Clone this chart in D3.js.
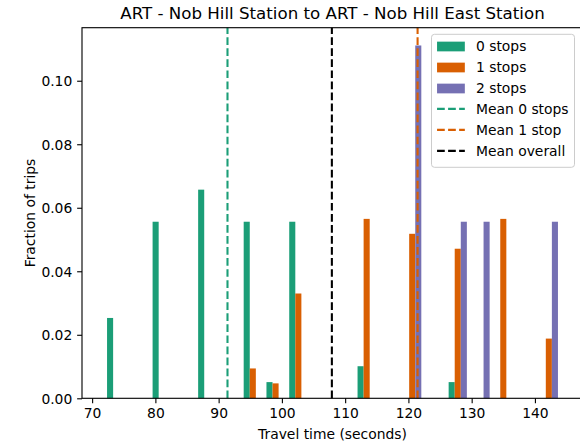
<!DOCTYPE html>
<html><head><meta charset="utf-8">
<script src="https://cdn.jsdelivr.net/npm/d3@7"></script>
<style>
body{margin:0;background:#fff;overflow:hidden}
text{font-family:"DejaVu Sans",sans-serif;fill:#000}
</style>
</head><body>
<svg id="c" width="580" height="443"></svg>
<script>
// ---- data ----
const chartTitle = "ART - Nob Hill Station to ART - Nob Hill East Station";
const xLabel = "Travel time (seconds)";
const yLabel = "Fraction of trips";
const binEdges = [72,75.6,79.2,82.8,86.4,90,93.6,97.2,100.8,104.4,108,111.6,115.2,118.8,122.4,126,129.6,133.2,136.8,140.4,144];
const seriesNames = ["0 stops","1 stops","2 stops"];
const stops0 = [0.0253,0,0.0556,0,0.0657,0,0.0556,0.0051,0.0556,0,0,0.0101,0,0,0,0.0051,0,0,0,0];
const stops1 = [0,0,0,0,0,0,0.0094,0.0047,0.0330,0,0,0.0565,0,0.0518,0,0.0471,0,0.0565,0,0.0188];
const stops2 = [0,0,0,0,0,0,0,0,0,0,0,0,0,0.1111,0,0.0556,0.0556,0,0,0.0556];
const meanNames = ["Mean 0 stops","Mean 1 stop","Mean overall"];
const meanValues = [91.4,121.45,107.9];
const xTicks = [70,80,90,100,110,120,130,140];
const yTicks = [0,0.02,0.04,0.06,0.08,0.10];

const seriesColors = ["#1b9e77","#d95f02","#7570b3"];
const meanColors = ["#1b9e77","#d95f02","#000000"];

// ---- layout ----
const svg = d3.select("#c");
const L = 82, R = 583, T = 27.7, B = 398.3;
const x = d3.scaleLinear().domain([68.4,147.6]).range([L,R]);
const y = d3.scaleLinear().domain([0,0.1167]).range([B,T]);
const PX = 100/72; // points to px

// bars
const allSeries = [stops0, stops1, stops2];
const nx = allSeries.length;
allSeries.forEach((vals, si) => {
  const g = svg.append("g");
  vals.forEach((v, bi) => {
    if (!v) return;
    const lo = binEdges[bi], hi = binEdges[bi+1], w = hi - lo;
    const bw = 0.8 * w / nx;
    const left = lo + 0.1 * w + si * bw;
    g.append("rect")
      .attr("x", x(left)).attr("width", x(left + bw) - x(left))
      .attr("y", y(v)).attr("height", y(0) - y(v))
      .attr("fill", seriesColors[si]);
  });
});

// mean lines
const dash = [3.7*1.5*PX, 1.6*1.5*PX].join(",");
meanValues.forEach((m, i) => {
  svg.append("line")
    .attr("x1", x(m)).attr("x2", x(m))
    .attr("y1", B).attr("y2", T)
    .attr("stroke", meanColors[i]).attr("stroke-width", 1.5*PX)
    .attr("stroke-dasharray", dash);
});

// axes
const tickLen = 3.5*PX, tickPad = 3.5*PX;
const xAxis = svg.append("g").attr("transform", `translate(0,${B})`)
  .call(d3.axisBottom(x).tickValues(xTicks).tickFormat(d3.format("d"))
        .tickSize(tickLen).tickPadding(tickPad).tickSizeOuter(0));
const yAxis = svg.append("g").attr("transform", `translate(${L},0)`)
  .call(d3.axisLeft(y).tickValues(yTicks).tickFormat(d3.format(".2f"))
        .tickSize(tickLen).tickPadding(tickPad).tickSizeOuter(0));
[xAxis, yAxis].forEach(a => {
  a.select(".domain").remove();
  a.selectAll(".tick line").attr("stroke", "#000").attr("stroke-width", 0.8*PX);
  a.selectAll(".tick text").attr("font-family", "DejaVu Sans").attr("font-size", 10*PX).attr("fill", "#000");
});
yAxis.selectAll(".tick text").attr("dy", "0.36em");

// spines
const sw = 0.8*PX;
svg.append("rect").attr("x", L).attr("y", T).attr("width", R - L).attr("height", B - T)
  .attr("fill", "none").attr("stroke", "#000").attr("stroke-width", sw);

// title and labels
svg.append("text").attr("x", (L+R)/2).attr("y", 19.4).attr("text-anchor", "middle")
  .attr("font-size", 12*PX).text(chartTitle);
svg.append("text").attr("x", (L+R)/2).attr("y", 438.5).attr("text-anchor", "middle")
  .attr("font-size", 10*PX).text(xLabel);
svg.append("text").attr("transform", `translate(35,${(T+B)/2}) rotate(-90)`)
  .attr("text-anchor", "middle").attr("font-size", 10*PX).text(yLabel);

// legend
const lg = svg.append("g");
const fs = 10*PX;
const lx = 431.5, ly = 34.3, lw = 143, lh = 133;
lg.append("rect").attr("x", lx).attr("y", ly).attr("width", lw).attr("height", lh)
  .attr("rx", 3).attr("fill", "#fff").attr("fill-opacity", 0.8)
  .attr("stroke", "#cccccc").attr("stroke-width", 1);
const rowY = i => 45.9 + i * 21;
const hx0 = lx + 0.4*fs, hx1 = hx0 + 2*fs, tx = hx1 + 0.8*fs;
seriesNames.forEach((n, i) => {
  lg.append("rect").attr("x", hx0).attr("y", rowY(i) - 0.35*fs + 0.6)
    .attr("width", hx1 - hx0).attr("height", 0.7*fs).attr("fill", seriesColors[i]);
  lg.append("text").attr("x", tx).attr("y", rowY(i)).attr("dy", "0.36em")
    .attr("font-size", fs).text(n);
});
meanNames.forEach((n, j) => {
  const i = j + seriesNames.length;
  lg.append("line").attr("x1", hx0).attr("x2", hx1).attr("y1", rowY(i)).attr("y2", rowY(i))
    .attr("stroke", meanColors[j]).attr("stroke-width", 1.5*PX).attr("stroke-dasharray", dash);
  lg.append("text").attr("x", tx).attr("y", rowY(i)).attr("dy", "0.36em")
    .attr("font-size", fs).text(n);
});
</script>
</body></html>
